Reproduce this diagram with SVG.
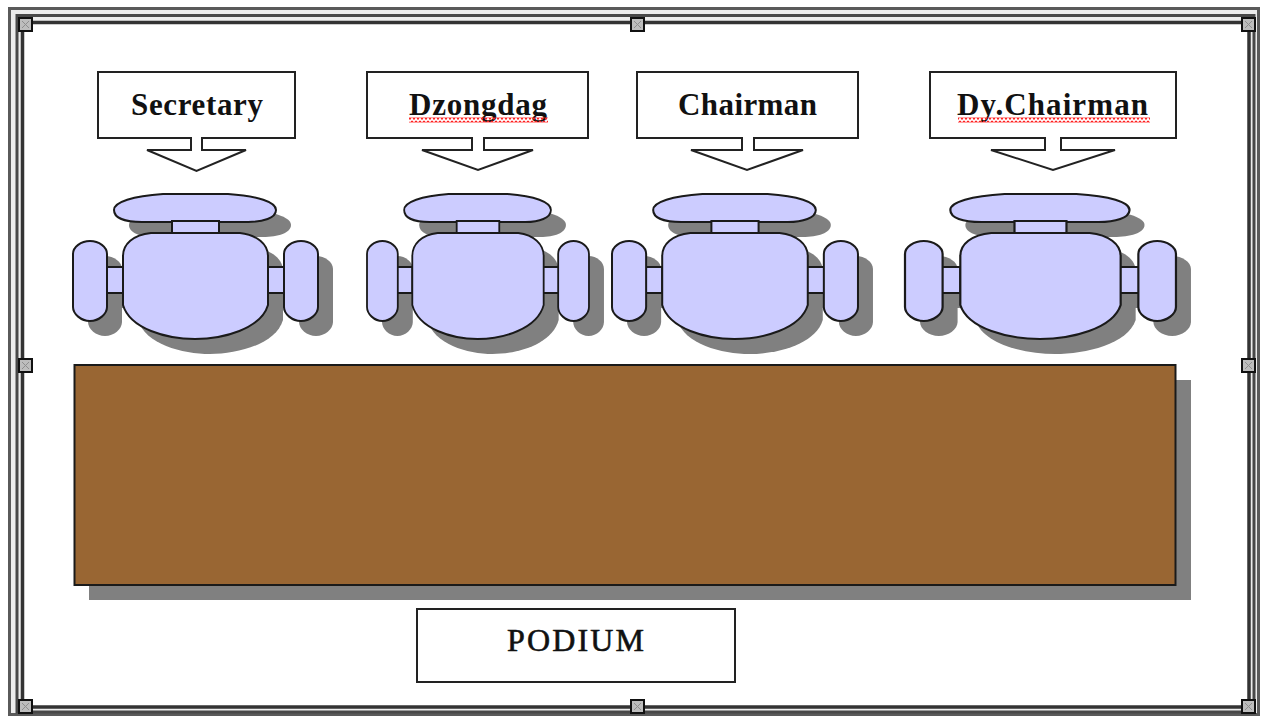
<svg xmlns="http://www.w3.org/2000/svg" xmlns:xlink="http://www.w3.org/1999/xlink" width="1263" height="717" viewBox="0 0 1263 717">
<style>
.box{fill:#fff;stroke:#222;stroke-width:2;}
.c{fill:#ccccff;stroke:#1a1a1a;stroke-width:2;vector-effect:non-scaling-stroke;}
.s{fill:#808080;stroke:none;}
.t{font-family:"Liberation Serif","Times New Roman",serif;font-weight:bold;font-size:31px;fill:#111;}
.p{font-family:"Liberation Serif","Times New Roman",serif;font-size:32px;fill:#111;stroke:#111;stroke-width:0.6;}
.h{fill:#bdbdbd;stroke:#111;stroke-width:2;}
.hx{stroke:#8e8e8e;stroke-width:1;fill:none;}
</style>
<defs>
<g id="chair-shape">
<path d="M90 0H155C185 2 203 8 203 16C203 24 190 28 175 28H69C52 28 41 24 41 16C41 8 60 2 90 0Z"/>
<rect x="99" y="27" width="47" height="13"/>
<rect x="33" y="73" width="17" height="26"/>
<rect x="194" y="73" width="18" height="26"/>
<path d="M0 60C0 53 8 47 17 47C26 47 34 53 34 60V113C34 120 26 127 17 127C8 127 0 120 0 113Z"/>
<path d="M211 60C211 53 219 47 228 47C237 47 245 53 245 60V113C245 120 237 127 228 127C219 127 211 120 211 113Z"/>
<path d="M78 39H167C184 41 195 50 195 62V111C188 135 150 145 122 145C94 145 57 135 50 111V62C50 50 60 41 78 39Z"/>
</g>
<pattern id="squiggle" width="4" height="5" patternUnits="userSpaceOnUse">
<path d="M0 1L2 4L4 1" fill="none" stroke="#ff2020" stroke-width="1.400"/>
</pattern>
</defs>
<rect width="1263" height="717" fill="#fff"/>
<g id="frame" fill="none">
<rect x="8" y="7" width="1252" height="709" fill="#ececec"/>
<rect x="9.500" y="8.500" width="1249" height="706" stroke="#5a5a5a" stroke-width="3"/>
<rect x="17" y="15.500" width="1237" height="696.500" stroke="#484848" stroke-width="3"/>
<rect x="22.500" y="22.500" width="1226.500" height="684.500" fill="#fff" stroke="#333" stroke-width="3.500"/>
</g>
<g id="handles">
<g id="h1"><rect class="h" x="19" y="18" width="13" height="13"/><path class="hx" d="M22 21l7 7M29 21l-7 7"/></g>
<g id="h2"><rect class="h" x="631" y="18" width="13" height="13"/><path class="hx" d="M634 21l7 7M641 21l-7 7"/></g>
<g id="h3"><rect class="h" x="1242" y="18" width="13" height="13"/><path class="hx" d="M1245 21l7 7M1252 21l-7 7"/></g>
<g id="h4"><rect class="h" x="19" y="359" width="13" height="13"/><path class="hx" d="M22 362l7 7M29 362l-7 7"/></g>
<g id="h5"><rect class="h" x="1242" y="359" width="13" height="13"/><path class="hx" d="M1245 362l7 7M1252 362l-7 7"/></g>
<g id="h6"><rect class="h" x="19" y="700" width="13" height="13"/><path class="hx" d="M22 703l7 7M29 703l-7 7"/></g>
<g id="h7"><rect class="h" x="631" y="700" width="13" height="13"/><path class="hx" d="M634 703l7 7M641 703l-7 7"/></g>
<g id="h8"><rect class="h" x="1242" y="700" width="13" height="13"/><path class="hx" d="M1245 703l7 7M1252 703l-7 7"/></g>
</g>
<g id="connectors"></g>
<g id="table">
<rect class="s" x="89" y="380" width="1102" height="220"/>
<rect x="74.500" y="365" width="1101" height="220" fill="#996633" stroke="#1a1a1a" stroke-width="2"/>
</g>
<g id="chair-secretary">
<use xlink:href="#chair-shape" href="#chair-shape" class="s" transform="translate(88,209)"/>
<use xlink:href="#chair-shape" href="#chair-shape" class="c" transform="translate(73,194)"/>
</g>
<g id="chair-dzongdag">
<use xlink:href="#chair-shape" href="#chair-shape" class="s" transform="translate(382,209) scale(0.906,1)"/>
<use xlink:href="#chair-shape" href="#chair-shape" class="c" transform="translate(367,194) scale(0.906,1)"/>
</g>
<g id="chair-chairman">
<use xlink:href="#chair-shape" href="#chair-shape" class="s" transform="translate(627,209) scale(1.004,1)"/>
<use xlink:href="#chair-shape" href="#chair-shape" class="c" transform="translate(612,194) scale(1.004,1)"/>
</g>
<g id="chair-dy">
<use xlink:href="#chair-shape" href="#chair-shape" class="s" transform="translate(920,209) scale(1.106,1)"/>
<use xlink:href="#chair-shape" href="#chair-shape" class="c" transform="translate(905,194) scale(1.106,1)"/>
</g>
<g id="label-secretary">
<path class="box" d="M98 72H295V138H202V150H246L196.500 171L147 150H191V138H98Z"/>
<text class="t" x="131" y="115" textLength="132" lengthAdjust="spacing">Secretary</text>
</g>
<g id="label-dzongdag">
<path class="box" d="M367 72H588V138H484V150H533L478 170L422 150H472V138H367Z"/>
<text class="t" x="409" y="115" textLength="138" lengthAdjust="spacing">Dzongdag</text>
<rect x="409" y="117.500" width="139" height="5" fill="url(#squiggle)"/>
</g>
<g id="label-chairman">
<path class="box" d="M637 72H858V138H754V150H803L747 170L691 150H742V138H637Z"/>
<text class="t" x="678" y="115" textLength="139" lengthAdjust="spacing">Chairman</text>
</g>
<g id="label-dy">
<path class="box" d="M930 72H1176V138H1061V150H1115L1053 170L991 150H1045V138H930Z"/>
<text class="t" x="957" y="115" textLength="191" lengthAdjust="spacing">Dy.Chairman</text>
<rect x="958" y="117.500" width="192" height="5" fill="url(#squiggle)"/>
</g>
<g id="podium">
<rect class="box" x="417" y="609" width="318" height="73"/>
<text class="p" x="507" y="651" textLength="137" lengthAdjust="spacing">PODIUM</text>
</g>
</svg>
